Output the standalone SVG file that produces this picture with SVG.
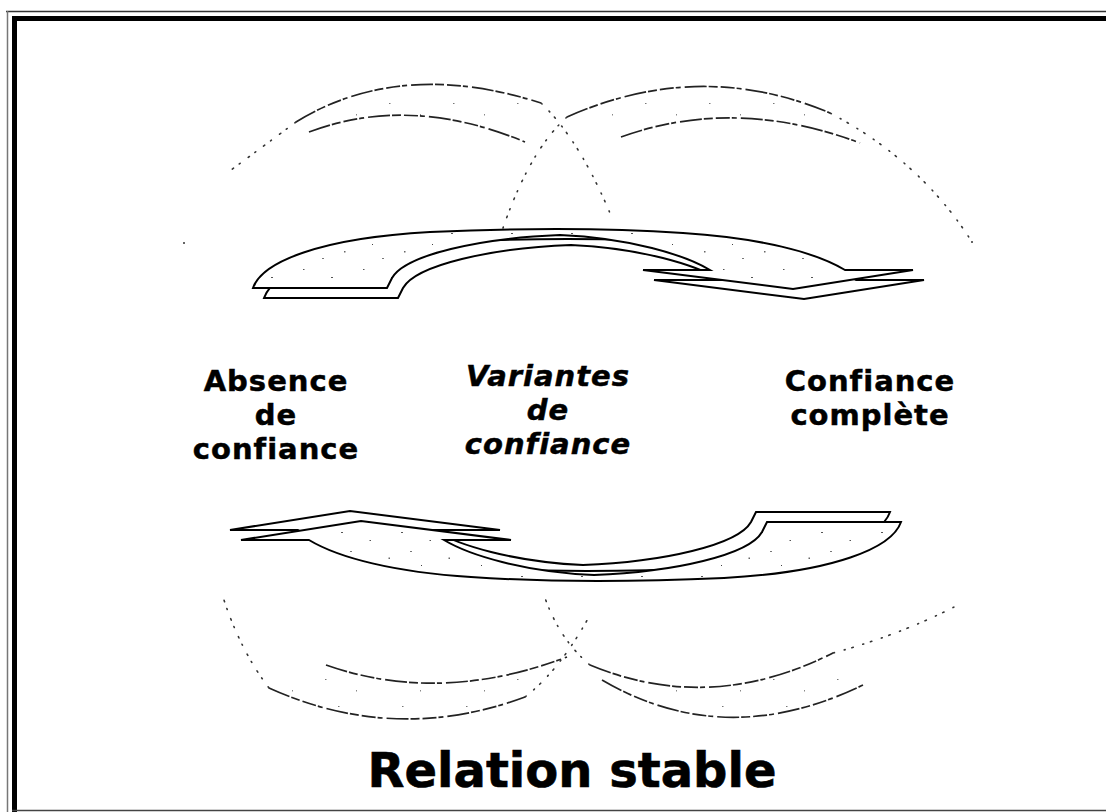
<svg xmlns="http://www.w3.org/2000/svg" xmlns:xlink="http://www.w3.org/1999/xlink" width="1106" height="812" viewBox="0 0 1106 812">
<style>
.lbl{font-family:"DejaVu Sans",Verdana,"Liberation Sans",sans-serif;font-weight:bold;font-size:29px;letter-spacing:1px;text-anchor:middle;fill:#000;stroke:#000;stroke-width:0.5}
.it{font-style:italic}
.title{font-size:48px;letter-spacing:0;stroke-width:0.6}
.face{fill:url(#speck);stroke:#000;stroke-width:2;stroke-linejoin:miter}
.back{fill:#fff;stroke:#000;stroke-width:2;stroke-linejoin:miter}
.band{fill:url(#speckLight);stroke:none}
.edge{fill:none;stroke:#222;stroke-width:1.7;stroke-dasharray:22 2 9 3 14 2 5 4}
.dots{fill:none;stroke:#333;stroke-width:1.6;stroke-dasharray:1.5 10 1 7;stroke-linecap:round}
</style>
<defs>
<pattern id="speck" width="60" height="44" patternUnits="userSpaceOnUse">
<rect width="60" height="44" fill="#fff"/>
<rect x="3" y="5" width="1.5" height="1" fill="#555"/>
<rect x="31" y="13" width="2" height="1" fill="#555"/>
<rect x="12" y="24" width="1" height="1" fill="#444"/>
<rect x="44" y="31" width="1.5" height="1.5" fill="#666"/>
<rect x="22" y="38" width="2" height="1" fill="#777"/>
</pattern>
<pattern id="speckLight" width="64" height="48" patternUnits="userSpaceOnUse">
<rect width="64" height="48" fill="#fff"/>
<rect x="5" y="7" width="1.5" height="1" fill="#777"/>
<rect x="36" y="18" width="1" height="1.5" fill="#888"/>
<rect x="18" y="34" width="1.5" height="1" fill="#777"/>
</pattern>
<g id="arrow">
<path class="back" transform="translate(11,10)" d="M253,288 C262,262 320,238 430,232 C520,228 610,228 683,233 C760,238 815,252 845,270 L913,270 L793,289 L643,270 L710,270 C685,255 630,238 560,235 C480,238 405,255 392,278 L387,288 Z"/>
<path class="face" d="M253,288 C262,262 320,238 430,232 C520,228 610,228 683,233 C760,238 815,252 845,270 L913,270 L793,289 L643,270 L710,270 C685,255 630,238 560,235 C480,238 405,255 392,278 L387,288 Z"/>
</g>
</defs>
<rect width="1106" height="812" fill="#fff"/>
<g id="frame">
<line x1="6" y1="11.5" x2="1106" y2="11.5" stroke="#333" stroke-width="1.5"/>
<line x1="7.5" y1="11" x2="7.5" y2="812" stroke="#777" stroke-width="1.5"/>
<line x1="12" y1="18.5" x2="1106" y2="18.5" stroke="#000" stroke-width="5"/>
<line x1="14.5" y1="16" x2="14.5" y2="812" stroke="#000" stroke-width="5"/>
<line x1="12" y1="810.5" x2="1106" y2="810.5" stroke="#444" stroke-width="1.5"/>
</g>
<g id="faint-arcs">
<path class="band" d="M296,122 Q400,58 541,103 L525,142 Q410,94 309,132 Z"/>
<path class="edge" d="M296,122 Q400,58 541,103"/>
<path class="edge" d="M309,132 Q410,94 525,142"/>
<path class="dots" d="M296,122 Q265,145 227,173"/>
<path class="band" d="M567,117 Q700,58 830,113 L860,143 Q735,96 621,137 Z"/>
<path class="edge" d="M567,117 Q700,58 830,113"/>
<path class="edge" d="M621,137 Q735,96 860,143"/>
<path class="dots" d="M830,113 Q920,160 972,242"/>
<path class="dots" d="M541,103 Q580,140 612,218"/>
<path class="dots" d="M567,117 Q530,150 503,228"/>
<path class="band" d="M269,688 Q395,745 525,697 L567,657 Q440,705 326,665 Z"/>
<path class="edge" d="M269,688 Q395,745 525,697"/>
<path class="edge" d="M326,665 Q440,705 567,657"/>
<path class="dots" d="M269,688 Q240,650 223,597"/>
<path class="dots" d="M525,697 Q560,670 590,615"/>
<path class="band" d="M602,680 Q725,752 863,685 L833,653 Q710,715 590,665 Z"/>
<path class="edge" d="M602,680 Q725,752 863,685"/>
<path class="edge" d="M590,665 Q710,715 833,653"/>
<path class="dots" d="M833,653 Q900,635 958,605"/>
<path class="dots" d="M590,665 Q560,640 545,598"/>
<circle cx="184" cy="243" r="1" fill="#333"/>
<circle cx="972" cy="242" r="1" fill="#333"/>
</g>
<g id="arrow-top"><use xlink:href="#arrow" href="#arrow"/></g>
<g id="arrow-bottom"><use xlink:href="#arrow" href="#arrow" transform="rotate(180 577 405)"/></g>
<g id="node-absence">
<text class="lbl" x="276" y="391">Absence<tspan x="276" dy="34">de</tspan><tspan x="276" dy="34">confiance</tspan></text>
</g>
<g id="node-variantes">
<text class="lbl it" x="548" y="386">Variantes<tspan x="548" dy="34">de</tspan><tspan x="548" dy="34">confiance</tspan></text>
</g>
<g id="node-complete">
<text class="lbl" x="870" y="391">Confiance<tspan x="870" dy="34">complète</tspan></text>
</g>
<g id="title">
<text class="lbl title" x="572" y="787">Relation stable</text>
</g>
</svg>
